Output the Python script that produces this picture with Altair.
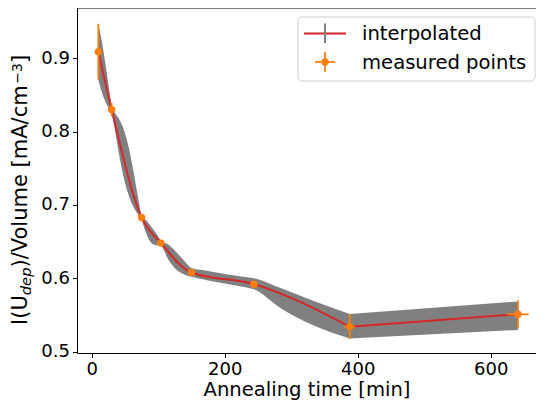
import altair as alt
import pandas as pd

# measured points
meas_x = [10, 30, 75, 104, 150, 244, 388, 641]
meas_y = [0.909, 0.830, 0.683, 0.648, 0.608, 0.592, 0.534, 0.551]
meas_xerr = [0, 0, 0, 0, 0, 0, 8, 16]
meas_yerr = [0.038, 0.009, 0.004, 0.004, 0.003, 0.003, 0.017, 0.019]

# interpolated uncertainty band
band_x = [10, 14, 18, 22, 26, 30, 35, 40, 47, 55, 63, 69, 75, 82, 89, 97, 104,
          115, 127, 140, 150, 175, 200, 225, 244, 283, 333, 388, 641]
band_lo = [0.871, 0.857, 0.846, 0.838, 0.831, 0.824, 0.8015, 0.775, 0.742, 0.715,
           0.697, 0.688, 0.679, 0.661, 0.649, 0.645, 0.644, 0.626, 0.612, 0.605,
           0.602, 0.597, 0.593, 0.589, 0.585, 0.560, 0.536, 0.518, 0.5297]
band_hi = [0.947, 0.929, 0.908, 0.884, 0.859, 0.836, 0.8255, 0.819, 0.806, 0.781,
           0.745, 0.714, 0.687, 0.679, 0.671, 0.661, 0.652, 0.646, 0.636, 0.623,
           0.614, 0.610, 0.606, 0.6025, 0.600, 0.587, 0.5695, 0.5514, 0.5685]

x_ticks = [0, 200, 400, 600]
y_ticks = [0.5, 0.6, 0.7, 0.8, 0.9]

W, H = 459, 345
GREY = "#808080"
RED = "#d62728"
ORANGE = "#ff7f0e"
FONT = "DejaVu Sans"

band = pd.DataFrame({"x": band_x, "lo": band_lo, "hi": band_hi})
pts = pd.DataFrame({"x": meas_x, "y": meas_y})
pts["xlo"] = [a - b for a, b in zip(meas_x, meas_xerr)]
pts["xhi"] = [a + b for a, b in zip(meas_x, meas_xerr)]
pts["ylo"] = [a - b for a, b in zip(meas_y, meas_yerr)]
pts["yhi"] = [a + b for a, b in zip(meas_y, meas_yerr)]

xscale = alt.Scale(domain=[-22.1, 668.1], nice=False, zero=False)
yscale = alt.Scale(domain=[0.4982, 0.9685], nice=False, zero=False)
xaxis = alt.Axis(values=x_ticks, title="Annealing time [min]", format="d")
yaxis = alt.Axis(values=y_ticks, title=None, format=".1f")


def X(f):
    return alt.X(f"{f}:Q", scale=xscale, axis=xaxis)


def Y(f):
    return alt.Y(f"{f}:Q", scale=yscale, axis=yaxis)


band1 = alt.Chart(band).transform_filter("datum.x <= 388").mark_area(
    color=GREY, opacity=1, interpolate="monotone"
).encode(x=X("x"), y=Y("lo"), y2="hi")
band2 = alt.Chart(band).transform_filter("datum.x >= 388").mark_area(
    color=GREY, opacity=1, interpolate="linear"
).encode(x=X("x"), y=Y("lo"), y2="hi")

line1 = alt.Chart(pts).transform_filter("datum.x <= 388").mark_line(
    color=RED, strokeWidth=2, interpolate="monotone"
).encode(x=X("x"), y=Y("y"))
line2 = alt.Chart(pts).transform_filter("datum.x >= 388").mark_line(
    color=RED, strokeWidth=2
).encode(x=X("x"), y=Y("y"))

verr = alt.Chart(pts).mark_rule(color=ORANGE, strokeWidth=1.8).encode(
    x=X("x"), y=Y("ylo"), y2="yhi")
herr = alt.Chart(pts).transform_filter("datum.xhi > datum.xlo").mark_rule(
    color=ORANGE, strokeWidth=1.8).encode(x=X("xlo"), x2="xhi", y=Y("y"))
dots = alt.Chart(pts).mark_circle(color=ORANGE, opacity=1, size=55).encode(
    x=X("x"), y=Y("y"))

one = pd.DataFrame({"k": [0]})


def txt(s, x, y, size, angle=0, style="normal"):
    kw = dict(align="left", baseline="alphabetic", font=FONT, fontSize=size,
              color="black", fontStyle=style)
    if angle:
        kw["angle"] = angle
    return alt.Chart(one).mark_text(**kw).encode(
        x=alt.value(x), y=alt.value(y), text=alt.value(s))


# legend
LX = -5
leg_box = alt.Chart(one).mark_rect(
    fill="white", fillOpacity=0.8, stroke="#cccccc", strokeWidth=1, cornerRadius=4
).encode(x=alt.value(226 + LX), x2=alt.value(463 + LX), y=alt.value(9), y2=alt.value(73))
leg_line = alt.Chart(one).mark_rule(color=RED, strokeWidth=2).encode(
    x=alt.value(232 + LX), x2=alt.value(274 + LX), y=alt.value(25.5))
leg_grey = alt.Chart(one).mark_rule(color=GREY, strokeWidth=2).encode(
    x=alt.value(253 + LX), y=alt.value(15.5), y2=alt.value(35))
leg_oh = alt.Chart(one).mark_rule(color=ORANGE, strokeWidth=1.8).encode(
    x=alt.value(243 + LX), x2=alt.value(263 + LX), y=alt.value(54))
leg_ov = alt.Chart(one).mark_rule(color=ORANGE, strokeWidth=1.8).encode(
    x=alt.value(253 + LX), y=alt.value(44), y2=alt.value(64))
leg_dot = alt.Chart(one).mark_circle(color=ORANGE, opacity=1, size=55).encode(
    x=alt.value(253 + LX), y=alt.value(54))
leg_t1 = txt("interpolated", 290 + LX, 32, 19.6)
leg_t2 = txt("measured points", 290 + LX, 61, 19.6)

# y-axis title (with sub/superscript)
yt1 = txt("I(U", -50.5, 317, 21, 270)
yt2 = txt("dep", -46, 287.2, 14.7, 270, "italic")
yt3 = txt(")/Volume [mA/cm", -50.5, 259.5, 21, 270)
yt4 = txt("\u22123", -55.5, 75.7, 14, 270)
yt5 = txt("]", -50.5, 55, 21, 270)

top_spine = alt.Chart(one).mark_rule(color="black", strokeWidth=1).encode(
    x=alt.value(0), x2=alt.value(W), y=alt.value(0))

chart = alt.layer(
    band1, band2, line1, line2, verr, herr, dots,
    leg_box, leg_line, leg_grey, leg_oh, leg_ov, leg_dot, leg_t1, leg_t2,
    yt1, yt2, yt3, yt4, yt5, top_spine
).properties(
    width=W, height=H,
    padding={"left": 69, "top": 0, "right": 0, "bottom": 47},
    autosize=alt.AutoSizeParams(type="none"),
).configure_axis(
    labelFont=FONT, labelFontSize=18, labelColor="black",
    titleFont=FONT, titleFontSize=19.6, titleColor="black", titleFontWeight="normal",
    domainColor="black", domainWidth=1, tickColor="black", tickSize=4.5, tickWidth=1,
    grid=False, labelPadding=3, titlePadding=2,
).configure_view(stroke=None)

chart.save("out.html", embed_options={"renderer": "svg", "actions": False})
